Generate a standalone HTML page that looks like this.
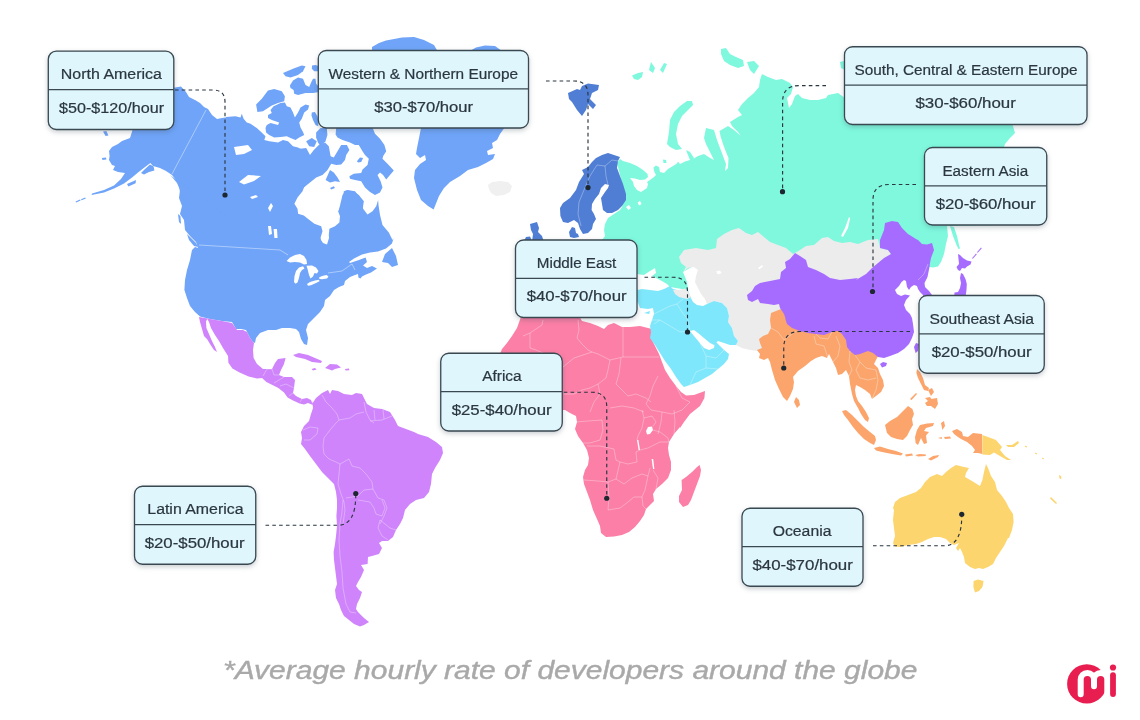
<!DOCTYPE html>
<html><head><meta charset="utf-8"><title>Average hourly rate of developers around the globe</title>
<style>
html,body{margin:0;padding:0;background:#fff}
#c{position:relative;width:1140px;height:720px;overflow:hidden;background:#fff;font-family:"Liberation Sans",sans-serif}
svg{position:absolute;left:0;top:0}
.tx{position:absolute;color:#2b3640;font-size:14px;text-align:center;white-space:nowrap}
.tx span{display:inline-block;transform-origin:50% 50%;-webkit-text-stroke:.2px #2b3640}
.bx rect{fill:#dff6fd;stroke:#3a4851;stroke-width:1.3}
.bx{filter:drop-shadow(0 2.5px 2.5px rgba(60,80,90,.28))}
.dv path{stroke:#3a4851;stroke-width:1.3;fill:none}
.ld{fill:none;stroke:#2a3640;stroke-width:1.15;stroke-dasharray:3.6 3.2}
#cap{position:absolute;left:223px;top:655px;font-size:26px;font-style:italic;color:#a9a9a9;white-space:nowrap;line-height:30px;transform-origin:0 50%;transform:scaleX(1.153);-webkit-text-stroke:.4px #a9a9a9}
</style></head><body><div id="c">
<svg width="1140" height="720" viewBox="0 0 1140 720">
<path d="M229.0,117.0 222.0,118.0 217.0,119.0 212.0,115.0 208.0,109.0 204.0,107.0 200.0,103.0 195.0,100.0 189.0,97.0 186.0,92.0 181.0,86.4 175.0,87.6 170.0,89.0 156.0,94.0 140.0,102.0 130.0,112.0 128.0,122.0 132.4,130.4 130.0,138.0 122.0,141.0 118.0,144.0 112.0,147.0 109.0,151.0 109.6,156.0 109.0,160.0 112.0,165.0 115.0,166.0 113.0,170.0 118.0,172.0 125.0,173.0 121.0,179.0 114.0,185.6 104.0,190.0 92.0,193.4 91.6,195.0 104.0,192.4 114.0,188.4 124.0,183.4 132.0,177.4 138.0,172.6 144.4,167.6 150.4,163.0 153.0,166.0 160.0,168.0 166.0,171.0 172.0,175.0 176.0,180.0 179.0,185.0 180.0,192.0 181.0,198.0 183.0,204.0 185.0,210.0 187.0,217.0 229.0,217.0Z" fill="#6fa4f8"/>
<path d="M127.0,184.0 136.0,180.0 135.6,183.2 128.4,186.6Z" fill="#6fa4f8"/>
<path d="M103.0,131.6 106.4,131.0 108.4,135.6 105.6,136.0Z" fill="#6fa4f8"/>
<path d="M102.0,158.0 106.0,157.6 106.4,159.6 102.4,160.0Z" fill="#6fa4f8"/>
<path d="M75.6,201.6 80.0,199.6 80.6,200.6 76.2,202.6Z" fill="#6fa4f8"/>
<path d="M81.0,199.2 85.2,197.4 85.8,198.4 81.6,200.2Z" fill="#6fa4f8"/>
<path d="M141.0,173.0 145.0,169.0 150.0,164.4 153.6,166.4 154.4,170.4 149.0,172.0 144.0,174.4Z" fill="#6fa4f8"/>
<path d="M283.0,73.1 293.0,68.8 301.8,65.6 305.5,66.2 303.0,71.2 298.0,75.0 290.5,77.5 285.5,76.2Z" fill="#6fa4f8"/>
<path d="M289.9,85.6 293.0,80.6 298.0,77.5 303.0,78.8 305.5,85.0 309.2,86.9 311.1,82.5 313.0,78.8 315.5,78.8 316.1,83.8 319.2,86.9 319.2,91.9 313.0,93.1 305.5,93.1 298.0,95.0 294.2,93.8 293.6,90.0 290.5,88.1Z" fill="#6fa4f8"/>
<path d="M312.0,65.6 315.5,65.0 319.2,66.2 319.2,71.2 314.2,71.2 311.8,68.8Z" fill="#6fa4f8"/>
<path d="M256.1,104.4 261.8,98.8 268.0,90.6 274.2,89.0 281.8,91.2 284.9,96.2 284.2,101.2 278.0,103.1 271.8,105.6 266.8,108.8 263.0,111.2 257.4,111.9Z" fill="#6fa4f8"/>
<path d="M265.5,128.1 266.8,125.0 270.5,123.1 278.0,125.0 279.2,122.5 271.8,120.0 268.0,118.1 268.0,115.0 271.8,113.1 270.5,110.0 273.6,106.2 280.5,103.1 284.9,102.5 286.8,106.2 290.5,107.5 293.0,112.5 294.9,117.5 298.0,112.5 300.5,107.5 305.5,104.4 309.2,105.6 308.0,109.4 304.2,112.5 301.8,118.8 299.2,122.5 300.5,127.5 303.0,131.9 304.2,135.0 299.2,137.5 295.5,140.0 290.5,138.1 286.8,136.2 280.5,136.9 274.2,137.5 269.2,135.0 266.1,132.5Z" fill="#6fa4f8"/>
<path d="M311.8,112.5 314.9,111.9 317.4,116.2 318.6,121.2 318.2,126.2 315.5,125.0 313.0,120.0 311.5,115.6Z" fill="#6fa4f8"/>
<path d="M316.1,132.5 320.5,128.1 326.8,128.1 327.4,135.0 325.5,141.2 320.5,146.2 318.0,142.5 316.1,137.5Z" fill="#6fa4f8"/>
<path d="M306.1,141.2 311.8,138.1 316.8,141.2 314.2,146.9 309.2,146.2Z" fill="#6fa4f8"/>
<path d="M336.2,127.5 372.5,127.5 375.0,133.8 380.0,138.8 384.4,145.0 386.2,151.2 383.1,156.2 382.5,158.8 387.5,163.8 393.8,170.6 390.0,175.0 386.2,179.4 383.1,175.0 380.0,172.5 377.5,175.0 380.6,181.2 382.5,187.5 380.0,192.5 375.0,195.0 370.0,191.9 365.0,187.5 361.2,181.2 355.0,180.0 350.0,178.8 349.4,176.2 353.8,173.8 361.2,173.1 362.5,169.4 367.5,165.0 368.8,158.8 365.0,155.0 362.5,151.2 358.8,145.0 355.0,145.0 350.0,142.5 342.5,140.0 337.5,137.5 335.6,134.4Z" fill="#6fa4f8"/>
<path d="M300.0,148.8 306.2,148.1 310.0,155.0 313.8,150.0 318.8,145.0 325.0,142.5 328.8,146.2 330.6,156.2 333.8,157.5 337.5,151.2 341.2,145.0 346.9,145.0 349.4,150.0 346.2,155.0 345.0,160.0 341.2,164.4 336.2,165.0 331.2,163.8 327.5,170.0 322.5,175.0 316.2,177.5 310.0,182.5 303.8,187.5 299.4,190.0Z" fill="#6fa4f8"/>
<path d="M325.6,180.0 330.0,170.0 333.8,172.5 337.5,177.5 340.0,181.9 335.0,181.2 330.0,182.5Z" fill="#6fa4f8"/>
<path d="M342.5,195.0 346.2,190.6 353.8,191.2 358.8,195.0 363.8,201.2 362.5,210.6 338.8,210.6Z" fill="#6fa4f8"/>
<path d="M356.9,161.2 360.0,157.5 363.1,158.1 361.2,161.9 358.1,162.5Z" fill="#6fa4f8"/>
<path d="M330.0,188.1 333.8,186.2 335.0,188.1 331.2,189.4Z" fill="#6fa4f8"/>
<path d="M421,128 405,110 385,80 372,60 372,47 379,43 386,40.5 394,39 402,37.5 414,37 424,40 434,45 438,52 468,52 476,47.5 485,45.5 495,46 502,51 512,60 515,90 504,129 503.6,129.0 500.0,134.0 497.0,140.0 492.0,143.0 493.0,148.0 487.0,151.0 488.0,155.0 495.0,154.0 493.0,159.0 486.0,163.0 478.0,167.0 468.0,170.0 460.0,176.0 450.0,182.0 444.0,188.0 439.0,196.0 435.0,206.0 433.6,209.6 428.0,206.0 421.0,200.0 417.0,190.0 414.0,178.0 415.0,170.0 420.0,164.0 426.0,160.0 425.0,155.0 420.0,158.0 416.0,154.0 417.0,148.0 419.0,138.0 421.0,128.0Z" fill="#6fa4f8"/>
<path d="M488.0,185.0 492.0,182.0 500.0,181.0 508.0,182.0 512.0,186.0 510.0,192.0 504.0,195.0 496.0,196.0 491.0,193.0 489.0,189.0Z" fill="#f0f0f0"/>
<path d="M226,117 235.5,116.2 240.5,117.5 241.8,113.8 243.6,118.8 246.8,122.5 250.5,123.8 256.8,128.1 263,133.8 265.5,136.3 264.3,140 269.3,141.3 278,142.5 283,140 288,141.3 293,146.3 298,147.5 303,150 305,160 305,185 302.5,191.2 297.5,197.5 294.4,203.8 297.5,208.8 298.1,213.8 303.8,215.6 308.8,219.4 314.4,223.8 321.2,226.2 322.5,231.2 320.6,237.5 321,240 323,243 327,244.5 329,238 328.8,235.0 329.4,228.8 335.0,226.2 339.4,222.5 340.0,216.2 338.1,211.2 340.0,207.5 342.5,202.5 343.1,197.5 343.8,191.2 347.5,190.0 355.0,191.2 358.8,196.2 362.5,201.2 363.1,208.8 367.5,214.4 372.5,211.2 376.2,206.2 378.1,200.0 378.5,205.0 380.0,215.0 382.5,225.0 388.8,232.5 392.5,240.0 393.6,238.0 392.0,243.6 386.0,248.6 378.0,251.6 370.0,252.6 362.0,254.6 354.0,258.6 349.0,262.0 350.0,263.0 359.0,260.0 365.6,257.6 367.0,262.0 363.0,265.6 367.0,268.0 372.0,266.0 377.0,268.4 371.0,272.4 366.0,274.4 362.0,276.4 360.4,278.4 358.4,277.4 358.0,274.0 355.0,275.0 350.0,277.0 345.0,281.0 344.0,285.0 339.0,287.0 334.0,290.0 330.0,296.0 325.0,300.0 324.0,306.0 320.0,312.0 314.0,318.0 308.0,324.0 306.0,330.0 308.0,338.0 307.0,345.0 304.0,344.0 301.0,339.0 299.0,332.0 296.0,329.0 290.0,328.0 282.0,328.0 276.0,330.0 268.0,330.0 260.0,333.0 256.0,338.0 255.0,343.0 253.0,342.0 250.0,338.0 246.0,330.0 241.0,329.0 236.0,329.0 232.0,322.0 222.0,321.0 210.0,319.0 200.0,316.4 195.0,312.0 190.0,306.0 187.0,298.0 184.4,290.0 185.0,280.0 187.0,270.0 190.0,260.0 192.0,250.0 195.0,247.0 198.0,248.0 196.0,242.0 190.0,236.0 185.0,230.0 184.0,220.0 180.0,214.0 182.0,206.0 179.0,198.0 180.0,190.0 177.0,183.0 172.0,177.0 170.0,175.0 226,216Z" fill="#6fa4f8"/>
<path d="M382.0,262.0 385.0,254.0 392.0,248.0 396.0,256.0 398.0,265.0 392.0,267.0 388.0,263.0Z" fill="#6fa4f8"/>
<path d="M187.0,234.0 190.0,237.0 196.0,243.0 198.0,247.0 194.0,246.0 189.0,240.0Z" fill="#6fa4f8"/>
<path d="M178.0,214.0 180.4,216.0 181.0,224.0 179.0,222.0Z" fill="#6fa4f8"/>
<path d="M234.0,147.0 248.0,145.0 252.0,150.0 244.0,154.0 236.0,155.0Z" fill="#ffffff"/>
<path d="M239.0,182.0 248.0,175.0 261.0,176.0 254.0,181.0 244.0,184.4Z" fill="#ffffff"/>
<path d="M250.0,197.0 256.0,195.0 258.0,197.0 252.0,199.0Z" fill="#ffffff"/>
<path d="M268.0,226.0 271.0,226.0 272.0,234.0 269.0,235.0Z" fill="#ffffff"/>
<path d="M273.6,229.0 277.0,229.0 277.6,238.0 274.4,238.0Z" fill="#ffffff"/>
<path d="M268.0,208.0 271.0,203.0 273.0,206.0 270.0,212.0Z" fill="#ffffff"/>
<path d="M286.5,261.0 290.0,257.5 295.0,255.0 300.0,254.0 304.0,256.0 306.5,260.0 307.0,264.0 304.0,264.5 300.0,262.5 295.0,262.0 290.0,262.5Z" fill="#ffffff"/>
<path d="M294.0,282.0 294.5,276.0 296.0,271.0 299.0,267.5 303.0,266.2 304.5,268.5 302.0,270.0 300.0,273.0 299.0,278.0 297.5,282.5 295.5,283.8Z" fill="#ffffff"/>
<path d="M306.5,265.8 312.0,265.5 316.0,267.5 318.5,271.0 317.0,273.5 314.5,273.0 313.0,276.5 310.5,278.5 309.0,275.0 307.8,270.0Z" fill="#ffffff"/>
<path d="M307.0,284.0 310.0,282.0 315.0,280.5 319.0,279.8 319.5,281.2 316.0,283.0 311.0,285.2 308.0,285.8Z" fill="#ffffff"/>
<path d="M319.0,277.5 322.0,276.0 326.5,275.0 328.5,276.5 327.0,278.5 322.0,279.2 319.5,279.0Z" fill="#ffffff"/>
<path d="M207.0,318.4 210.0,319.0 222.0,321.0 232.0,323.0 237.0,330.0 243.0,330.0 247.0,332.0 250.0,338.0 254.0,343.0 253.0,350.0 253.6,358.0 257.0,364.0 263.0,369.0 272.0,369.0 275.0,363.0 278.0,359.0 285.6,358.0 284.0,364.0 281.0,370.0 279.0,375.0 284.0,377.0 292.0,377.0 295.0,380.0 294.0,388.0 293.0,393.0 296.0,396.0 302.0,399.0 307.0,398.0 311.0,400.0 313.0,405.0 308.0,403.0 304.0,404.4 299.6,403.6 293.0,400.6 287.6,397.6 284.0,392.4 278.4,388.0 272.4,385.0 266.4,382.0 262.0,378.0 257.0,378.4 248.6,376.4 239.6,372.4 232.4,368.4 228.4,362.8 228.0,356.0 223.0,348.0 219.0,341.0 215.0,335.0 211.0,328.0 209.0,322.0Z" fill="#cf84fb"/>
<path d="M199.0,317.0 207.6,318.6 206.0,321.6 206.4,328.0 209.0,334.0 212.0,341.0 215.0,347.0 217.0,352.0 214.0,350.0 210.0,344.0 207.0,339.0 204.0,336.0 202.0,329.0 200.0,322.0Z" fill="#cf84fb"/>
<path d="M293.0,355.0 299.0,353.0 308.0,355.0 315.0,358.0 322.0,361.0 321.0,363.0 312.0,362.0 305.0,359.0 296.0,357.0Z" fill="#cf84fb"/>
<path d="M325.0,368.0 330.0,364.0 337.0,364.4 341.0,367.6 335.0,369.0 332.0,370.4 328.0,369.0Z" fill="#cf84fb"/>
<path d="M311.6,369.0 315.0,368.0 316.6,369.6 313.0,370.6Z" fill="#cf84fb"/>
<path d="M345.0,369.0 349.0,368.6 349.4,370.2 345.6,370.4Z" fill="#cf84fb"/>
<path d="M312.0,404.0 316.0,398.0 322.0,393.0 328.0,390.0 330.0,394.0 332.0,390.0 338.0,391.0 344.0,394.0 352.0,395.0 356.0,393.0 362.0,394.0 364.0,398.0 367.0,404.0 374.0,408.0 382.0,409.0 390.0,412.0 395.0,420.0 398.0,426.0 406.0,429.0 414.0,432.0 418.0,434.0 428.0,437.0 436.0,442.0 442.0,447.0 443.0,453.0 440.0,460.0 435.0,468.0 432.0,474.0 431.0,484.0 429.0,492.0 424.0,498.0 416.0,500.0 416.0,500.0 410.0,504.0 405.0,510.0 403.0,518.0 400.0,524.0 396.0,530.0 393.0,537.0 388.0,541.0 382.0,541.0 379.0,543.0 382.0,548.0 379.0,554.0 372.0,556.0 368.0,557.0 367.6,564.0 361.0,565.0 364.0,570.0 361.0,577.0 358.0,582.0 356.0,586.0 359.0,590.0 362.0,592.0 360.0,598.0 357.0,604.0 356.0,609.0 358.0,612.0 364.0,618.0 369.0,622.0 364.0,625.0 360.0,626.4 354.0,624.0 349.0,620.0 344.0,616.0 341.0,610.0 339.0,604.0 336.0,598.0 335.0,590.0 337.0,584.0 336.0,576.0 335.0,568.0 334.0,560.0 333.6,552.0 335.0,544.0 336.0,536.0 337.0,526.0 336.4,516.0 337.0,508.0 337.0,500.0 336.0,492.0 334.0,484.0 328.0,478.0 322.0,472.0 316.0,464.0 310.0,456.0 305.0,449.0 301.0,444.0 302.0,438.0 301.0,432.0 304.0,426.0 309.0,421.0 311.0,414.0 313.0,408.0 312.0,400.0Z" fill="#cf84fb"/>
<path d="M522.0,314.0 578.0,314.0 582.0,321.0 590.0,323.0 598.0,326.0 604.0,329.0 608.0,325.0 614.0,323.0 622.0,327.0 630.0,327.0 640.0,326.0 648.0,328.0 652.0,329.0 651.0,338.0 655.0,346.0 659.0,354.0 662.0,362.0 665.0,370.0 670.0,378.0 676.0,386.0 681.0,392.0 686.0,395.6 694.0,395.0 705.0,391.0 704.4,398.0 700.0,406.0 690.0,414.0 684.0,422.0 680.0,428.0 680.0,427.0 674.0,434.0 669.0,442.0 668.0,448.0 669.0,455.0 671.0,462.0 671.0,470.0 668.0,478.0 662.0,484.0 656.0,489.0 653.0,494.0 654.0,501.0 650.0,505.0 646.0,509.0 644.0,515.0 640.0,521.0 635.0,527.0 629.0,532.0 622.0,535.0 614.0,536.4 606.0,537.0 601.0,533.0 600.0,526.0 597.0,519.0 593.0,510.0 590.0,500.0 587.0,492.0 584.0,484.0 583.0,477.0 585.0,470.0 588.0,465.0 589.0,458.0 587.0,450.0 583.0,443.0 578.0,436.0 575.0,429.0 577.0,422.0 576.0,416.0 570.0,413.0 565.0,410.0 558.0,410.0 550.0,414.0 538.0,415.0 526.0,414.0 514.0,410.0 504.0,402.0 498.0,390.0 495.0,378.0 496.0,366.0 500.0,354.0 502.0,349.0 507.0,343.0 512.0,336.0 517.0,328.0Z" fill="#fb7fa6"/>
<path d="M679.0,502.0 679.0,496.0 682.0,490.0 681.6,480.0 686.0,477.0 692.0,472.0 697.0,467.0 699.6,465.0 701.0,470.0 700.0,476.0 697.0,484.0 694.0,492.0 691.0,500.0 688.0,505.0 683.0,507.0Z" fill="#fb7fa6"/>
<path d="M646.0,431.0 648.0,427.0 652.0,426.4 653.0,430.0 650.0,434.0 647.0,434.4Z" fill="#ffffff"/>
<path d="M637.0,440.0 638.4,440.0 640.0,450.0 638.6,450.0Z" fill="#ffffff"/>
<path d="M651.6,459.0 653.2,459.0 654.4,469.0 653.0,469.0Z" fill="#ffffff"/>
<path d="M617,163 620,159 623,161 630,163 637,166 643,170 647.5,174 648,177 645,179.5 640,180 635,178.5 630,178 633,182 634,186 637,190 641,192 644,190 647,188 648,184 647,182 650,180 654,177 656,175 654,171 653.5,167.5 656,165.5 659,167 660,172 664,173 668,169 673,166 677,163.5 678,161.5 680,164 685,161.5 690,160 688,155 686,150 690,152 694,158 693,159 698,156 704,154 710,158 714,160 710,152 706,144 704,138 706,128 714,130 717,140 720,148 723,156 726,164 725,171 728,168 728.5,158 726,152 723,144 720.5,136 719.5,131 728,126 734,130 741,136 743,139 738,132 732,126 730,122 738,117 742,115 738,110 742,104 748,98 754,93 759,87 760,80 762,74 768,77 776,80 782,79 790,83 793,87 791,94 787,98 789,108 792,104 795,96 798,94 802,98 810,100 818,100 826,98 828,95 838,93 845,98 860,95 900,90 1000,100 1013,126 1015,133 1010,138 1005,144 1004,147 1010,150 1030,180 1020,220 1000,225 947,226 948,236 946,244 944,254 941,262 938,266.5 933,267.5 929,267 925,262 900,272 830,268 720,262 700,262 683,272 685,277 687,282 688,290 670,287 667,284 660,280 652,276 656,273 655,268 650,271 644,275 637,274 632,280 634,286 638,290 638,300 632,315 600,316 590,300 585,260 595,245 602,240 605,236 604,230 605,224 608,218 614,214 620,210 622,207 625,195 620,175Z" fill="#7ff8de"/>
<path d="M667.0,144.0 669.0,132.0 670.0,120.0 674.0,112.0 680.0,106.0 687.0,101.0 692.0,101.0 693.0,105.0 688.0,110.0 682.0,116.0 678.0,124.0 676.0,134.0 678.0,144.0 682.0,149.0 676.0,150.0 670.0,147.0Z" fill="#7ff8de"/>
<path d="M721.0,49.0 726.0,48.0 730.0,54.0 736.0,57.0 743.0,60.0 744.0,66.0 738.0,68.0 730.0,65.0 724.0,61.0 721.0,54.0Z" fill="#7ff8de"/>
<path d="M747.0,62.0 754.0,61.0 759.0,66.0 754.0,74.0 750.0,70.0Z" fill="#7ff8de"/>
<path d="M632.0,75.6 638.0,73.0 643.0,72.0 642.0,77.0 638.0,80.0 634.0,79.0Z" fill="#7ff8de"/>
<path d="M649.0,70.0 651.0,62.0 655.0,68.0 653.0,73.0Z" fill="#7ff8de"/>
<path d="M660.0,70.0 664.0,63.0 667.0,64.0 663.0,73.0Z" fill="#7ff8de"/>
<path d="M840.0,62.0 844.0,61.0 845.0,70.0 841.0,68.0Z" fill="#7ff8de"/>
<path d="M950,226 954,227 957,236 959,245 960,248.5 958.5,249 956.5,245 953,236Z" fill="#7ff8de"/>
<path d="M841.0,236.0 845.0,228.0 849.0,217.0 850.2,218.0 848.0,228.0 843.0,237.0Z" fill="#ffffff"/>
<path d="M626.0,207.0 629.0,205.0 631.0,208.0 628.4,210.0Z" fill="#ffffff"/>
<path d="M637.6,202.4 640.0,201.0 641.6,204.0 639.0,205.6Z" fill="#ffffff"/>
<path d="M663,159.5 666,160 666.5,163 663.5,163Z" fill="#7ff8de"/>
<path d="M596.0,158.0 602.0,155.0 608.0,153.0 614.0,155.0 620.0,157.0 618.0,161.0 617.0,168.0 620.0,176.0 623.0,184.0 626.0,194.0 626.0,200.0 622.0,206.0 618.0,210.0 612.0,213.0 607.0,213.0 603.0,210.0 602.0,204.0 601.0,198.0 605.0,192.0 608.0,188.0 609.0,185.0 605.0,184.0 601.0,188.0 599.0,194.0 595.0,199.0 592.0,204.0 591.6,210.0 594.0,214.0 596.0,219.0 593.0,224.0 592.0,229.0 588.0,233.0 583.0,234.0 580.0,229.0 578.0,223.0 574.0,220.0 568.0,223.0 563.0,222.0 560.4,216.0 560.0,208.0 563.0,203.0 570.0,198.0 576.0,190.0 579.0,182.0 584.0,174.0 582.0,170.0 588.0,167.0 592.0,162.0Z" fill="#4f7ed4"/>
<path d="M569.0,232.0 572.0,227.0 575.0,228.0 576.0,233.0 578.0,234.0 579.0,237.0 574.0,238.0 570.0,237.0Z" fill="#4f7ed4"/>
<path d="M530.0,224.0 537.0,222.0 539.0,228.0 538.0,232.0 542.0,236.0 544.0,242.0 532.0,242.0 533.0,234.0 531.0,230.0Z" fill="#4f7ed4"/>
<path d="M524.0,241.0 526.0,237.0 530.0,236.4 532.0,241.0Z" fill="#4f7ed4"/>
<path d="M568.0,93.0 577.0,89.0 580.0,90.0 582.0,86.0 588.0,83.6 599.0,85.0 598.0,90.0 592.0,93.0 590.0,99.0 596.0,105.0 593.0,109.0 588.0,104.0 586.0,110.0 582.0,116.0 577.0,110.0 572.0,102.0 569.0,99.0Z" fill="#4f7ed4"/>
<path d="M560,245 600,242 604,250 600,300 560,312 524,312 521,262Z" fill="#4f7ed4"/>
<path d="M679.0,257.0 684.0,250.0 696.0,248.0 708.0,250.0 716.0,248.0 717.0,239.0 724.0,234.0 732.0,230.0 739.0,228.0 746.0,233.0 752.0,235.0 758.0,232.0 764.0,237.0 770.0,242.0 778.0,245.0 786.0,248.0 793.0,254.0 800.0,250.0 806.0,246.0 814.0,245.0 822.0,238.0 828.0,237.0 834.0,241.0 842.0,243.0 850.0,242.0 858.0,244.0 838.0,240.0 848.0,242.0 858.0,244.0 868.0,240.0 878.0,239.0 880.0,248.0 888.0,250.0 891.0,254.0 885.0,263.0 873.0,275.0 858.0,287.0 830.0,290.0 810.0,286.0 782.0,286.0 782.0,320.0 770.0,332.0 766.0,340.0 763.0,356.0 758.0,351.0 750.0,350.0 742.0,348.0 736.0,345.0 738.0,341.0 734.0,336.0 732.0,328.0 728.0,322.0 729.0,316.0 727.0,308.0 722.0,303.0 714.0,301.0 707.0,304.0 705.0,299.0 701.0,294.0 698.0,288.0 695.0,282.0 696.0,276.0 698.0,270.0 694.0,267.0 688.0,268.0 683.0,272.0 686.0,267.0 681.0,263.0Z" fill="#ececec"/>
<path d="M716.0,271.6 720.0,270.4 721.6,273.0 718.0,274.4Z" fill="#ffffff"/>
<path d="M758.0,268.0 762.0,265.0 763.0,266.4 759.6,269.2Z" fill="#ffffff"/>
<path d="M638.0,290.0 642.0,289.0 650.0,290.0 658.0,291.0 664.0,289.0 670.0,286.0 673.0,289.0 677.0,290.0 682.4,290.4 688.0,290.0 690.0,296.0 693.0,302.0 697.0,305.0 703.0,306.0 707.0,304.0 714.0,301.0 722.0,303.0 727.0,308.0 729.0,316.0 728.0,322.0 732.0,328.0 734.0,336.0 738.0,341.0 736.0,345.0 730.0,345.0 724.0,343.0 718.0,341.0 714.0,345.0 710.0,343.0 704.0,338.0 698.0,333.0 694.0,330.0 690.0,331.0 694.0,336.0 699.0,342.0 704.0,348.0 709.0,350.0 714.0,348.0 715.0,341.0 717.0,343.0 720.0,346.0 724.0,350.0 729.0,354.0 728.0,359.0 724.0,364.0 718.0,369.0 712.0,374.0 705.0,378.0 698.0,382.0 690.0,385.0 684.0,387.0 681.0,384.0 676.0,377.0 671.0,369.0 665.0,361.0 660.0,353.0 655.0,345.0 650.0,338.0 651.0,332.0 650.0,326.0 652.0,320.0 654.0,314.0 653.0,308.0 648.0,309.0 640.0,308.0 637.0,300.0Z" fill="#7fe7fb"/>
<path d="M644.0,313.0 650.0,311.0 649.2,314.0Z" fill="#7fe7fb"/>
<path d="M781.0,309.0 776.0,311.0 771.0,313.0 770.0,320.0 771.0,328.0 768.0,334.0 763.0,336.0 759.0,339.0 760.0,343.0 762.0,348.0 757.0,350.0 760.0,354.0 759.0,358.0 764.0,360.0 768.0,358.0 770.0,362.0 772.0,370.0 775.0,380.0 779.0,389.0 783.0,397.0 787.0,401.0 790.0,396.0 793.0,389.0 794.0,382.0 793.0,377.0 798.0,371.0 805.0,366.0 811.0,361.0 816.0,358.0 822.0,356.0 827.0,358.0 829.0,354.0 833.0,362.0 836.0,368.0 838.0,375.0 842.0,374.0 846.0,370.0 849.0,376.0 850.0,384.0 852.0,394.0 854.0,401.0 858.0,408.0 861.0,414.0 865.0,420.0 868.0,422.0 869.0,418.0 866.0,412.0 862.0,406.0 858.0,401.0 856.0,396.0 855.0,390.0 856.0,385.0 860.0,387.0 865.0,390.0 870.0,394.0 872.0,399.0 876.0,396.0 881.0,392.0 884.0,386.0 883.0,380.0 880.0,374.0 878.0,368.0 874.0,364.0 876.0,360.0 878.0,356.0 878.0,346.0 840.0,322.0 785.0,314.0Z" fill="#fba56c"/>
<path d="M794.0,402.0 796.0,397.0 799.0,400.0 800.0,405.0 797.0,408.0Z" fill="#fba56c"/>
<path d="M842.0,411.0 846.0,410.0 852.0,415.0 858.0,421.0 864.0,427.0 870.0,432.0 875.0,436.0 876.0,440.0 874.0,445.0 870.0,443.0 864.0,439.0 858.0,433.0 853.0,427.0 848.0,420.0 844.0,415.0Z" fill="#fba56c"/>
<path d="M874.0,448.0 880.0,446.4 888.0,449.0 896.0,451.0 903.0,453.6 901.0,455.6 892.0,454.0 882.0,452.0 876.0,450.4Z" fill="#fba56c"/>
<path d="M905.0,454.4 912.0,453.6 913.0,455.6 906.0,456.4Z" fill="#fba56c"/>
<path d="M915.0,455.0 920.0,454.0 926.0,454.4 925.6,456.0 918.0,456.6Z" fill="#fba56c"/>
<path d="M928.0,459.0 933.0,456.0 939.0,455.0 938.0,457.0 931.0,460.4Z" fill="#fba56c"/>
<path d="M885.0,425.0 890.0,421.0 897.0,417.0 903.0,411.0 908.0,406.0 912.4,409.0 914.0,414.0 912.0,419.0 913.0,425.0 910.0,430.0 907.0,436.0 903.0,440.0 897.0,439.0 891.0,437.0 887.0,433.0Z" fill="#fba56c"/>
<path d="M915.0,437.0 917.0,430.0 920.0,425.0 927.0,423.6 934.0,423.0 933.0,426.0 926.0,428.0 924.0,431.0 929.0,432.0 926.0,435.6 927.0,443.0 924.0,444.0 921.0,438.0 918.0,445.0 915.6,443.0Z" fill="#fba56c"/>
<path d="M941.0,423.0 944.0,421.0 945.0,426.0 942.4,430.0Z" fill="#fba56c"/>
<path d="M938.0,438.0 942.0,437.0 941.6,439.0Z" fill="#fba56c"/>
<path d="M944.0,437.0 950.0,436.6 951.0,438.4 945.0,439.0Z" fill="#fba56c"/>
<path d="M952.0,431.0 957.0,429.0 962.0,432.0 963.0,436.0 968.0,437.0 973.0,433.0 982.0,434.0 982.4,454.0 978.0,453.0 973.0,453.0 975.0,450.0 972.0,446.0 967.0,442.0 961.0,439.0 958.0,437.0 954.0,434.0Z" fill="#fba56c"/>
<path d="M917.0,369.0 920.0,372.0 923.0,378.0 925.0,385.0 929.0,388.0 928.0,391.0 924.0,390.0 921.0,384.0 918.0,378.0 916.4,373.0Z" fill="#fba56c"/>
<path d="M928.0,390.0 932.0,388.0 934.0,392.0 931.0,396.0Z" fill="#fba56c"/>
<path d="M925.0,398.0 930.0,397.0 932.0,400.0 928.0,401.0Z" fill="#fba56c"/>
<path d="M925.0,403.0 931.0,399.0 937.0,398.0 938.0,404.0 935.0,409.0 931.0,406.0 927.0,406.0Z" fill="#fba56c"/>
<path d="M910.0,399.0 916.0,393.0 917.0,394.0 911.6,400.0Z" fill="#fba56c"/>
<path d="M673,290 679,290 685,288.5 689,293 691,297 687,299 683,298 679,297 675,294Z" fill="#ececec"/>
<path d="M795.0,253.0 800.0,256.0 806.0,260.0 808.0,267.0 816.0,270.0 824.0,274.0 830.0,278.0 840.0,280.0 850.0,279.0 858.0,278.0 856.0,280.0 866.0,274.0 872.0,268.0 878.0,263.0 884.0,258.0 891.0,254.0 888.0,250.0 880.0,248.0 880.0,240.0 884.0,230.0 885.0,223.0 892.0,221.0 898.0,222.0 902.0,228.0 908.0,234.0 916,239 918,240 922,244 927,244.5 932,243 934,250 931,258 930,263 929.5,267 928.5,272 927.5,277 924.5,283 925,287 929,291 932,295 936,302 925,302 923,295 920,292 918,289 917,286 914,285 911,287 909,290 907,287 906.5,284 906,281 904,280 901.5,282 899,286 895,290 897,294 901,296 905,294.5 910,295.5 906,300 904,305 906,310 910,314 912.0,318.0 913.0,324.0 914.0,332.0 912.0,338.0 909.0,344.0 904.0,349.0 898.0,353.0 890.0,356.0 884.0,358.0 878.0,357.0 873.0,353.0 868.0,351.0 860.0,354.0 855.0,355.0 850.0,351.0 847.0,347.0 846.0,340.0 842.0,334.0 838.0,331.0 832.0,332.0 824.0,335.0 816.0,334.0 808.0,333.0 800.0,331.0 792.0,328.0 787.0,324.0 785.0,318.0 790.0,326.0 786.0,320.0 784.0,314.0 780.0,308.0 779.0,304.0 774.0,305.0 768.0,304.0 760.0,303.0 758.0,299.0 752.0,302.0 748.0,300.0 747.0,295.0 752.0,291.0 755.0,286.0 760.0,283.0 770.0,281.0 780.0,279.0 781.0,272.0 786.0,268.0 785.0,262.0 790.0,259.0Z" fill="#a66cff"/>
<path d="M880.0,364.0 883.0,362.0 887.0,363.0 886.0,366.0 882.0,367.4Z" fill="#a66cff"/>
<path d="M914.0,347.0 916.0,343.0 919.0,344.0 918.0,351.0 915.6,353.0Z" fill="#a66cff"/>
<path d="M958,254 960,255 963,258 967,260.5 971.5,261.5 970.5,264.5 967,266.5 965,268.5 962,268 960,271 958,270 956.5,267 959,264 958.5,259Z" fill="#a66cff"/>
<path d="M961,273 963,274 965.5,279 966.8,284 966.5,290 965,300 954,300 954.5,292.5 958,292 960,288 961,283 960,278Z" fill="#a66cff"/>
<path d="M972,258.2 976,253.6 976.8,254.2 972.8,258.8Z" fill="#a66cff"/>
<path d="M977,252.2 981,247.6 981.8,248.2 977.8,252.8Z" fill="#a66cff"/>
<path d="M893.0,508.0 895.0,502.0 900.0,498.0 908.0,495.0 916.0,492.0 921.0,488.0 925.0,482.0 930.0,477.0 937.0,474.0 942.0,476.0 946.0,472.0 951.0,468.0 956.0,465.0 964.0,467.0 969.0,468.0 966.0,473.0 965.0,477.0 972.0,481.0 980.0,486.0 982.4,480.0 984.0,472.0 986.0,464.0 988.0,468.0 991.0,476.0 995.0,482.0 997.0,490.0 1002.0,496.0 1006.0,502.0 1009.0,508.0 1013.0,514.0 1013.6,522.0 1012.0,530.0 1009.0,538.0 1008.0,538.0 1004.0,546.0 1000.0,552.0 996.0,558.0 993.0,564.0 988.0,567.0 983.0,569.0 979.0,568.0 975.0,569.0 970.0,567.0 965.0,563.0 964.0,557.0 962.0,552.0 960.0,548.0 958.0,551.0 956.0,548.0 959.0,543.0 954.0,545.0 950.0,543.0 946.0,539.0 940.0,537.0 934.0,537.0 928.0,539.0 922.0,542.0 916.0,544.0 908.0,545.0 900.0,547.0 895.0,546.4 893.0,543.0 895.0,536.0 894.0,528.0 893.0,520.0 894.0,510.0Z" fill="#fdd56e"/>
<path d="M973.6,581.0 978.0,579.6 983.6,581.0 982.4,587.0 979.0,591.0 975.0,592.4 973.4,587.0Z" fill="#fdd56e"/>
<path d="M982.4,435.0 988.0,437.0 996.0,440.0 1002.0,447.0 1000.0,450.0 1005.0,456.0 1011.0,460.0 1007.0,460.0 1000.0,456.0 994.0,452.4 990.0,455.0 982.4,454.4Z" fill="#fdd56e"/>
<path d="M1006.0,445.0 1012.0,445.0 1018.0,441.0 1019.0,443.0 1014.0,447.0 1008.0,447.0Z" fill="#fdd56e"/>
<path d="M1051.0,497.0 1057.0,503.0 1056.0,504.0 1050.0,498.4Z" fill="#fdd56e"/>
<path d="M1025.2,445.6 1027.2,446.4 1026.8,447.6 1024.8,446.8Z" fill="#fdd56e"/>
<path d="M1035.2,452.4 1037.2,453.6 1036.8,454.6 1034.8,453.4Z" fill="#fdd56e"/>
<path d="M1042.4,457.6 1044.0,458.6 1043.6,459.6 1042.0,458.6Z" fill="#fdd56e"/>
<path d="M1059,475 1061,476 1061.5,479 1059.5,478.5Z" fill="#fdd56e"/>
<path d="M206.0,110.0 172.0,174.0" fill="none" stroke="#ffffff" stroke-width="0.6" stroke-opacity="0.7" stroke-linejoin="round"/>
<path d="M199.0,245.0 280.0,250.0 288.0,255.0" fill="none" stroke="#ffffff" stroke-width="0.6" stroke-opacity="0.7" stroke-linejoin="round"/>
<path d="M328.0,273.0 342.0,271.0 352.0,264.0 355.0,270.0" fill="none" stroke="#ffffff" stroke-width="0.6" stroke-opacity="0.7" stroke-linejoin="round"/>
<path d="M322.0,395.0 326.0,402.0 332.0,408.0 337.0,414.0 339.0,420.0 336.0,423.0" fill="none" stroke="#ffffff" stroke-width="0.7" stroke-opacity="0.45" stroke-linejoin="round"/>
<path d="M336.0,423.0 330.0,430.0 324.0,438.0 323.0,446.0 324.0,454.0 329.0,459.0 336.0,462.0 340.0,464.0" fill="none" stroke="#ffffff" stroke-width="0.7" stroke-opacity="0.45" stroke-linejoin="round"/>
<path d="M340.0,464.0 339.0,474.0 338.0,484.0 341.0,494.0 344.0,502.0 345.0,510.0 343.0,524.0" fill="none" stroke="#ffffff" stroke-width="0.7" stroke-opacity="0.45" stroke-linejoin="round"/>
<path d="M340.0,464.0 349.0,459.0 352.0,466.0 360.0,468.0 366.0,474.0 372.0,482.0 373.0,489.0 364.0,490.0 358.0,496.0 346.0,498.0" fill="none" stroke="#ffffff" stroke-width="0.7" stroke-opacity="0.45" stroke-linejoin="round"/>
<path d="M373.0,489.0 378.0,498.0 384.0,500.0 387.0,508.0 384.0,516.0 380.0,524.0" fill="none" stroke="#ffffff" stroke-width="0.7" stroke-opacity="0.45" stroke-linejoin="round"/>
<path d="M364.0,402.0 366.0,412.0 370.0,420.0 374.0,423.0" fill="none" stroke="#ffffff" stroke-width="0.7" stroke-opacity="0.45" stroke-linejoin="round"/>
<path d="M374.0,410.0 375.0,420.0" fill="none" stroke="#ffffff" stroke-width="0.7" stroke-opacity="0.45" stroke-linejoin="round"/>
<path d="M383.0,410.0 384.0,419.0" fill="none" stroke="#ffffff" stroke-width="0.7" stroke-opacity="0.45" stroke-linejoin="round"/>
<path d="M339.0,420.0 350.0,418.0 356.0,414.0 364.0,412.0" fill="none" stroke="#ffffff" stroke-width="0.7" stroke-opacity="0.45" stroke-linejoin="round"/>
<path d="M370.0,421.0 382.0,420.0 392.0,416.0" fill="none" stroke="#ffffff" stroke-width="0.7" stroke-opacity="0.45" stroke-linejoin="round"/>
<path d="M303.0,430.0 310.0,427.0 318.0,428.0 317.0,434.0 310.0,440.0 304.0,440.0" fill="none" stroke="#ffffff" stroke-width="0.7" stroke-opacity="0.45" stroke-linejoin="round"/>
<path d="M343.0,500.0 342.0,512.0 340.0,524.0 339.0,540.0 340.0,556.0 342.0,572.0 343.0,588.0 346.0,604.0 350.0,612.0 356.0,613.0" fill="none" stroke="#ffffff" stroke-width="0.7" stroke-opacity="0.45" stroke-linejoin="round"/>
<path d="M380.0,520.0 378.0,528.0 382.0,536.0 388.0,540.0" fill="none" stroke="#ffffff" stroke-width="0.7" stroke-opacity="0.45" stroke-linejoin="round"/>
<path d="M380.0,520.0 390.0,528.0 396.0,530.0" fill="none" stroke="#ffffff" stroke-width="0.7" stroke-opacity="0.45" stroke-linejoin="round"/>
<path d="M358.0,500.0 370.0,502.0 374.0,508.0 376.0,514.0 382.0,516.0 385.0,508.0 382.0,500.0" fill="none" stroke="#ffffff" stroke-width="0.7" stroke-opacity="0.45" stroke-linejoin="round"/>
<path d="M263.0,376.0 267.0,369.0 272.0,369.0" fill="none" stroke="#ffffff" stroke-width="0.7" stroke-opacity="0.45" stroke-linejoin="round"/>
<path d="M272.0,369.0 274.0,375.0 279.0,375.0" fill="none" stroke="#ffffff" stroke-width="0.7" stroke-opacity="0.45" stroke-linejoin="round"/>
<path d="M274.0,383.0 279.0,380.0 284.0,377.0" fill="none" stroke="#ffffff" stroke-width="0.7" stroke-opacity="0.45" stroke-linejoin="round"/>
<path d="M280.0,386.0 286.0,384.0 294.0,388.0" fill="none" stroke="#ffffff" stroke-width="0.7" stroke-opacity="0.45" stroke-linejoin="round"/>
<path d="M289.0,396.0 293.0,393.0" fill="none" stroke="#ffffff" stroke-width="0.7" stroke-opacity="0.45" stroke-linejoin="round"/>
<path d="M300.0,402.0 302.0,399.0" fill="none" stroke="#ffffff" stroke-width="0.7" stroke-opacity="0.45" stroke-linejoin="round"/>
<path d="M523.0,336.0 530.0,333.0 536.0,329.0 542.0,325.0 543.0,320.0" fill="none" stroke="#ffffff" stroke-width="0.7" stroke-opacity="0.45" stroke-linejoin="round"/>
<path d="M578.0,320.0 579.0,330.0 577.0,338.0 582.0,344.0 588.0,350.0 592.0,352.0 598.0,354.0 610.0,360.0" fill="none" stroke="#ffffff" stroke-width="0.7" stroke-opacity="0.45" stroke-linejoin="round"/>
<path d="M623.0,327.0 623.0,357.0 659.0,357.0" fill="none" stroke="#ffffff" stroke-width="0.7" stroke-opacity="0.45" stroke-linejoin="round"/>
<path d="M610.0,360.0 623.0,357.0" fill="none" stroke="#ffffff" stroke-width="0.7" stroke-opacity="0.45" stroke-linejoin="round"/>
<path d="M563.0,367.0 574.0,358.0 592.0,352.0" fill="none" stroke="#ffffff" stroke-width="0.7" stroke-opacity="0.45" stroke-linejoin="round"/>
<path d="M621.0,358.0 619.0,374.0 616.0,384.0 622.0,390.0 628.0,396.0" fill="none" stroke="#ffffff" stroke-width="0.7" stroke-opacity="0.45" stroke-linejoin="round"/>
<path d="M610.0,360.0 608.0,370.0 606.0,378.0 598.0,384.0" fill="none" stroke="#ffffff" stroke-width="0.7" stroke-opacity="0.45" stroke-linejoin="round"/>
<path d="M658.0,376.0 653.0,386.0 650.0,396.0 646.0,404.0 651.0,410.0 662.0,412.0" fill="none" stroke="#ffffff" stroke-width="0.7" stroke-opacity="0.45" stroke-linejoin="round"/>
<path d="M676.0,386.0 682.0,398.0 690.0,402.0 682.0,410.0 672.0,414.0 662.0,412.0" fill="none" stroke="#ffffff" stroke-width="0.7" stroke-opacity="0.45" stroke-linejoin="round"/>
<path d="M662.0,412.0 661.0,422.0 658.0,434.0" fill="none" stroke="#ffffff" stroke-width="0.7" stroke-opacity="0.45" stroke-linejoin="round"/>
<path d="M628.0,396.0 636.0,394.0 646.0,398.0 651.0,402.0" fill="none" stroke="#ffffff" stroke-width="0.7" stroke-opacity="0.45" stroke-linejoin="round"/>
<path d="M610.0,408.0 622.0,406.0 634.0,408.0 644.0,412.0" fill="none" stroke="#ffffff" stroke-width="0.7" stroke-opacity="0.45" stroke-linejoin="round"/>
<path d="M582.0,390.0 590.0,388.0 598.0,384.0 600.0,394.0 594.0,402.0 590.0,412.0" fill="none" stroke="#ffffff" stroke-width="0.7" stroke-opacity="0.45" stroke-linejoin="round"/>
<path d="M530.0,333.0 530.0,348.0 536.0,350.0 550.0,356.0 563.0,367.0" fill="none" stroke="#ffffff" stroke-width="0.7" stroke-opacity="0.45" stroke-linejoin="round"/>
<path d="M564.0,394.0 574.0,394.0 582.0,390.0" fill="none" stroke="#ffffff" stroke-width="0.7" stroke-opacity="0.45" stroke-linejoin="round"/>
<path d="M576.0,422.0 588.0,421.0 602.0,420.0 603.0,430.0 600.0,440.0 590.0,443.0 583.0,443.0" fill="none" stroke="#ffffff" stroke-width="0.7" stroke-opacity="0.45" stroke-linejoin="round"/>
<path d="M587.0,446.0 600.0,446.0 614.0,449.0 616.0,460.0 620.0,462.0" fill="none" stroke="#ffffff" stroke-width="0.7" stroke-opacity="0.45" stroke-linejoin="round"/>
<path d="M620.0,462.0 628.0,464.0 637.0,462.0 636.0,452.0 640.0,450.0" fill="none" stroke="#ffffff" stroke-width="0.7" stroke-opacity="0.45" stroke-linejoin="round"/>
<path d="M584.0,480.0 598.0,481.0 608.0,482.0 616.0,479.0 620.0,462.0" fill="none" stroke="#ffffff" stroke-width="0.7" stroke-opacity="0.45" stroke-linejoin="round"/>
<path d="M608.0,482.0 609.0,498.0 608.0,510.0 620.0,508.0 628.0,502.0 634.0,497.0 642.0,497.0" fill="none" stroke="#ffffff" stroke-width="0.7" stroke-opacity="0.45" stroke-linejoin="round"/>
<path d="M616.0,479.0 624.0,484.0 632.0,478.0 642.0,474.0 648.0,476.0 650.0,468.0" fill="none" stroke="#ffffff" stroke-width="0.7" stroke-opacity="0.45" stroke-linejoin="round"/>
<path d="M642.0,497.0 645.0,490.0 648.0,476.0" fill="none" stroke="#ffffff" stroke-width="0.7" stroke-opacity="0.45" stroke-linejoin="round"/>
<path d="M642.0,497.0 643.0,506.0 646.0,509.0" fill="none" stroke="#ffffff" stroke-width="0.7" stroke-opacity="0.45" stroke-linejoin="round"/>
<path d="M653.0,470.0 658.0,478.0 656.0,489.0" fill="none" stroke="#ffffff" stroke-width="0.7" stroke-opacity="0.45" stroke-linejoin="round"/>
<path d="M640.0,450.0 648.0,448.0 660.0,442.0 669.0,442.0" fill="none" stroke="#ffffff" stroke-width="0.7" stroke-opacity="0.45" stroke-linejoin="round"/>
<path d="M644.0,418.0 642.0,428.0 638.0,436.0 637.0,440.0" fill="none" stroke="#ffffff" stroke-width="0.7" stroke-opacity="0.45" stroke-linejoin="round"/>
<path d="M653.0,430.0 660.0,432.0 668.0,438.0 669.0,442.0" fill="none" stroke="#ffffff" stroke-width="0.7" stroke-opacity="0.45" stroke-linejoin="round"/>
<path d="M674.0,410.0 675.0,422.0 674.0,434.0" fill="none" stroke="#ffffff" stroke-width="0.7" stroke-opacity="0.45" stroke-linejoin="round"/>
<path d="M642.0,410.0 644.0,418.0 652.0,416.0 656.0,422.0 653.0,426.4" fill="none" stroke="#ffffff" stroke-width="0.7" stroke-opacity="0.45" stroke-linejoin="round"/>
<path d="M597.0,165.0 590.0,176.0 584.0,190.0 579.0,202.0 578.0,214.0 581.0,226.0" fill="none" stroke="#ffffff" stroke-width="0.7" stroke-opacity="0.45" stroke-linejoin="round"/>
<path d="M597.0,165.0 605.0,166.0 612.0,160.0 618.0,161.0" fill="none" stroke="#ffffff" stroke-width="0.7" stroke-opacity="0.45" stroke-linejoin="round"/>
<path d="M605.0,166.0 606.0,176.0 608.0,185.0" fill="none" stroke="#ffffff" stroke-width="0.7" stroke-opacity="0.45" stroke-linejoin="round"/>
<path d="M654.0,314.0 662.0,310.0 670.0,306.0 677.0,304.0 683.0,299.0" fill="none" stroke="#ffffff" stroke-width="0.7" stroke-opacity="0.45" stroke-linejoin="round"/>
<path d="M652.0,320.0 660.0,320.0 670.0,326.0 680.0,332.0 690.0,331.0" fill="none" stroke="#ffffff" stroke-width="0.7" stroke-opacity="0.45" stroke-linejoin="round"/>
<path d="M677.0,304.0 682.0,312.0 688.0,320.0 690.0,331.0" fill="none" stroke="#ffffff" stroke-width="0.7" stroke-opacity="0.45" stroke-linejoin="round"/>
<path d="M654.0,324.0 660.0,320.0" fill="none" stroke="#ffffff" stroke-width="0.7" stroke-opacity="0.45" stroke-linejoin="round"/>
<path d="M700.0,343.0 706.0,356.0 716.0,358.0 724.0,350.0" fill="none" stroke="#ffffff" stroke-width="0.7" stroke-opacity="0.45" stroke-linejoin="round"/>
<path d="M690.0,385.0 696.0,372.0 706.0,368.0 718.0,369.0" fill="none" stroke="#ffffff" stroke-width="0.7" stroke-opacity="0.45" stroke-linejoin="round"/>
<path d="M706.0,356.0 706.0,368.0" fill="none" stroke="#ffffff" stroke-width="0.7" stroke-opacity="0.45" stroke-linejoin="round"/>
<path d="M814.0,336.0 816.0,344.0 824.0,346.0 828.0,358.0" fill="none" stroke="#ffffff" stroke-width="0.7" stroke-opacity="0.45" stroke-linejoin="round"/>
<path d="M816.0,334.0 820.0,338.0 828.0,339.0 832.0,332.0" fill="none" stroke="#ffffff" stroke-width="0.7" stroke-opacity="0.45" stroke-linejoin="round"/>
<path d="M836.0,336.0 840.0,346.0 838.0,356.0 833.0,362.0" fill="none" stroke="#ffffff" stroke-width="0.7" stroke-opacity="0.45" stroke-linejoin="round"/>
<path d="M850.0,351.0 849.0,362.0 852.0,370.0 849.0,376.0" fill="none" stroke="#ffffff" stroke-width="0.7" stroke-opacity="0.45" stroke-linejoin="round"/>
<path d="M855.0,355.0 860.0,362.0 866.0,368.0 876.0,370.0 878.0,380.0 876.0,390.0 872.0,399.0" fill="none" stroke="#ffffff" stroke-width="0.7" stroke-opacity="0.45" stroke-linejoin="round"/>
<path d="M860.0,362.0 856.0,370.0 860.0,378.0 868.0,380.0 876.0,378.0" fill="none" stroke="#ffffff" stroke-width="0.7" stroke-opacity="0.45" stroke-linejoin="round"/>
<path d="M771.0,328.0 778.0,332.0 784.0,340.0 796.0,331.0" fill="none" stroke="#ffffff" stroke-width="0.7" stroke-opacity="0.45" stroke-linejoin="round"/>
<path d="M918.0,280.0 924.0,274.0 928.0,264.0" fill="none" stroke="#ffffff" stroke-width="0.7" stroke-opacity="0.45" stroke-linejoin="round"/>
<path d="M175 90 H213 Q225 90 225 102 V194" class="ld"/><circle cx="225" cy="195" r="2.6" fill="#1d2730"/>
<path d="M546 81 H574 Q588 81 588 95 V187" class="ld"/><circle cx="588" cy="187.6" r="2.6" fill="#1d2730"/>
<path d="M826 85.6 H799 Q782.6 85.6 782.6 102 V190" class="ld"/><circle cx="782.5" cy="191.7" r="2.6" fill="#1d2730"/>
<path d="M916 184.5 H889 Q873 184.5 873 200 V290" class="ld"/><circle cx="872.5" cy="291.5" r="2.6" fill="#1d2730"/>
<path d="M644.5 277.2 H673 Q687.5 277.2 687.5 292 V331" class="ld"/><circle cx="687.5" cy="332" r="2.6" fill="#1d2730"/>
<path d="M910 331.5 H800 Q783.75 331.5 783.75 348 V367" class="ld"/><circle cx="783.75" cy="368" r="2.6" fill="#1d2730"/>
<path d="M563.75 392.25 H592 Q606.75 392.25 606.75 407 V497" class="ld"/><circle cx="606.75" cy="498.25" r="2.6" fill="#1d2730"/>
<path d="M265.5 525.25 H338 Q356 525.25 355.75 494" class="ld"/><circle cx="355.75" cy="493.5" r="2.6" fill="#1d2730"/>
<path d="M873 545.75 H944 Q962 545.75 961.75 515" class="ld"/><circle cx="961.75" cy="514.25" r="2.6" fill="#1d2730"/>
<g class="bx">
<rect x="48.3" y="51.2" width="125.5" height="78.3" rx="8" ry="8"/>
<rect x="318.3" y="50.5" width="210.2" height="77.5" rx="8" ry="8"/>
<rect x="844.5" y="46.75" width="242.5" height="77.75" rx="8" ry="8"/>
<rect x="924.5" y="147.5" width="122.25" height="77.5" rx="8" ry="8"/>
<rect x="515.5" y="240" width="121.5" height="77.5" rx="8" ry="8"/>
<rect x="919" y="295.5" width="125.25" height="77.75" rx="8" ry="8"/>
<rect x="440.75" y="353.25" width="121.5" height="77.75" rx="8" ry="8"/>
<rect x="134.5" y="486.25" width="121.25" height="78" rx="8" ry="8"/>
<rect x="742" y="508.25" width="121" height="78" rx="8" ry="8"/>
</g><g class="dv">
<path d="M48.3 89.55H173.8"/>
<path d="M318.3 88.85H528.5"/>
<path d="M844.5 85.1H1087.0"/>
<path d="M924.5 185.85H1046.75"/>
<path d="M515.5 278.35H637.0"/>
<path d="M919 333.85H1044.25"/>
<path d="M440.75 391.6H562.25"/>
<path d="M134.5 524.6H255.75"/>
<path d="M742 546.6H863"/>
</g>
<g id="logo">
<circle cx="1086.8" cy="683.9" r="19.7" fill="#e81e50"/>
<path d="M1080.7 694.3 V679.6 A6.65 6.65 0 0 1 1094 679.6 V686.3 M1094 679.6 A6.65 6.65 0 0 1 1107.3 679.6 V692" fill="none" stroke="#fff" stroke-width="6" stroke-linecap="round"/>
<rect x="1110.1" y="672.3" width="5.8" height="24.7" rx="2.9" fill="#e81e50"/>
<circle cx="1113" cy="667.5" r="3.1" fill="#e81e50"/>
</g>
</svg>
<div class="tx" style="left:48.3px;top:51.2px;width:125.5px;height:46.4px;line-height:46.4px"><span style="transform:scaleX(1.1387)">North America</span></div><div class="tx" style="left:48.3px;top:90.6px;width:125.5px;height:34px;line-height:34px"><span style="transform:scaleX(1.1528)">$50-$120/hour</span></div>
<div class="tx" style="left:318.3px;top:50.5px;width:210.2px;height:46.4px;line-height:46.4px"><span style="transform:scaleX(1.0986)">Western &amp; Northern Europe</span></div><div class="tx" style="left:318.3px;top:89.9px;width:210.2px;height:34px;line-height:34px"><span style="transform:scaleX(1.1885)">$30-$70/hour</span></div>
<div class="tx" style="left:844.5px;top:46.75px;width:242.5px;height:46.4px;line-height:46.4px"><span style="transform:scaleX(1.0936)">South, Central &amp; Eastern Europe</span></div><div class="tx" style="left:844.5px;top:86.15px;width:242.5px;height:34px;line-height:34px"><span style="transform:scaleX(1.2065)">$30-$60/hour</span></div>
<div class="tx" style="left:924.5px;top:147.5px;width:122.25px;height:46.4px;line-height:46.4px"><span style="transform:scaleX(1.0908)">Eastern Asia</span></div><div class="tx" style="left:924.5px;top:186.9px;width:122.25px;height:34px;line-height:34px"><span style="transform:scaleX(1.2005)">$20-$60/hour</span></div>
<div class="tx" style="left:515.5px;top:240px;width:121.5px;height:46.4px;line-height:46.4px"><span style="transform:scaleX(1.0867)">Middle East</span></div><div class="tx" style="left:515.5px;top:279.4px;width:121.5px;height:34px;line-height:34px"><span style="transform:scaleX(1.2005)">$40-$70/hour</span></div>
<div class="tx" style="left:919px;top:295.5px;width:125.25px;height:46.4px;line-height:46.4px"><span style="transform:scaleX(1.1187)">Southeast Asia</span></div><div class="tx" style="left:919px;top:334.9px;width:125.25px;height:34px;line-height:34px"><span style="transform:scaleX(1.2005)">$20-$50/hour</span></div>
<div class="tx" style="left:440.75px;top:353.25px;width:121.5px;height:46.4px;line-height:46.4px"><span style="transform:scaleX(1.1034)">Africa</span></div><div class="tx" style="left:440.75px;top:392.65px;width:121.5px;height:34px;line-height:34px"><span style="transform:scaleX(1.2005)">$25-$40/hour</span></div>
<div class="tx" style="left:134.5px;top:486.25px;width:121.25px;height:46.4px;line-height:46.4px"><span style="transform:scaleX(1.1346)">Latin America</span></div><div class="tx" style="left:134.5px;top:525.65px;width:121.25px;height:34px;line-height:34px"><span style="transform:scaleX(1.2005)">$20-$50/hour</span></div>
<div class="tx" style="left:742px;top:508.25px;width:121px;height:46.4px;line-height:46.4px"><span style="transform:scaleX(1.1263)">Oceania</span></div><div class="tx" style="left:742px;top:547.65px;width:121px;height:34px;line-height:34px"><span style="transform:scaleX(1.2065)">$40-$70/hour</span></div>
<div id="cap">*Average hourly rate of developers around the globe</div>
</div></body></html>
